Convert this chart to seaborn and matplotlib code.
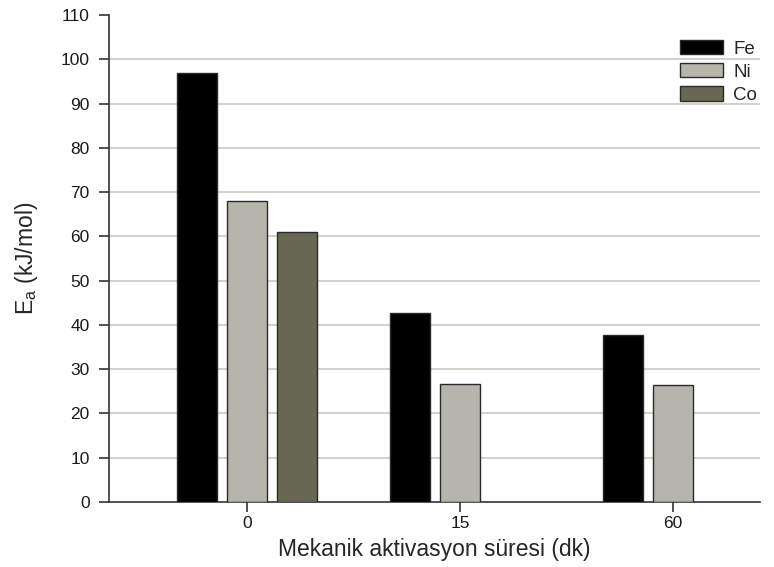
import matplotlib
matplotlib.use("Agg")
import matplotlib.pyplot as plt
import seaborn as sns
import pandas as pd
import numpy as np

times = ["0", "15", "60"]
metals = ["Fe", "Ni", "Co"]
fe_vals = [96.8, 42.8, 37.8]
ni_vals = [67.9, 26.6, 26.4]
co_vals = [60.9, np.nan, np.nan]
yticks = list(range(0, 111, 10))

df = pd.DataFrame({
    "time": times * 3,
    "metal": ["Fe"] * 3 + ["Ni"] * 3 + ["Co"] * 3,
    "Ea": fe_vals + ni_vals + co_vals,
})

sns.set_style("white")
plt.rcParams["font.family"] = ["Liberation Sans", "DejaVu Sans"]
plt.rcParams["mathtext.default"] = "regular"

fig = plt.figure(figsize=(7.74, 5.67), dpi=100)
ax = fig.add_axes([0.1408, 0.1146, 0.8412, 0.8589])

palette = {"Fe": "#000000", "Ni": "#b6b6aa", "Co": "#6a6a50"}
sns.barplot(data=df, x="time", y="Ea", hue="metal", order=times, hue_order=metals,
            palette=palette, width=0.704, gap=0.2, edgecolor="#2a2a2a", linewidth=1.0,
            errorbar=None, ax=ax, zorder=3)

ax.set_xlim(-0.648, 2.408)
ax.set_ylim(0, 110)
ax.set_yticks(yticks)
for y in yticks[1:-1]:
    ax.axhline(y, color="#d2d2ca", lw=1.5, zorder=1)

for s in ["top", "right"]:
    ax.spines[s].set_visible(False)
for s in ["left", "bottom"]:
    ax.spines[s].set_color("#333333")
    ax.spines[s].set_linewidth(1.2)
ax.tick_params(axis="both", which="major", bottom=True, left=True, direction="out",
               length=7, width=1.2, color="#333333", labelsize=12.5, labelcolor="#1a1a1a")
ax.tick_params(axis="y", pad=7)
ax.tick_params(axis="x", pad=3)

ax.set_xlabel("Mekanik aktivasyon süresi (dk)", fontsize=16.5, labelpad=5)
ax.set_ylabel("$E_a$ (kJ/mol)", fontsize=16.5, labelpad=15)

leg = ax.legend(loc="upper right", bbox_to_anchor=(1.016, 0.976), frameon=False,
                fontsize=13.5, handlelength=2.3, handleheight=0.8, handletextpad=0.55,
                labelspacing=0.3, borderpad=0.2)

fig.savefig("out.png", dpi=100)
